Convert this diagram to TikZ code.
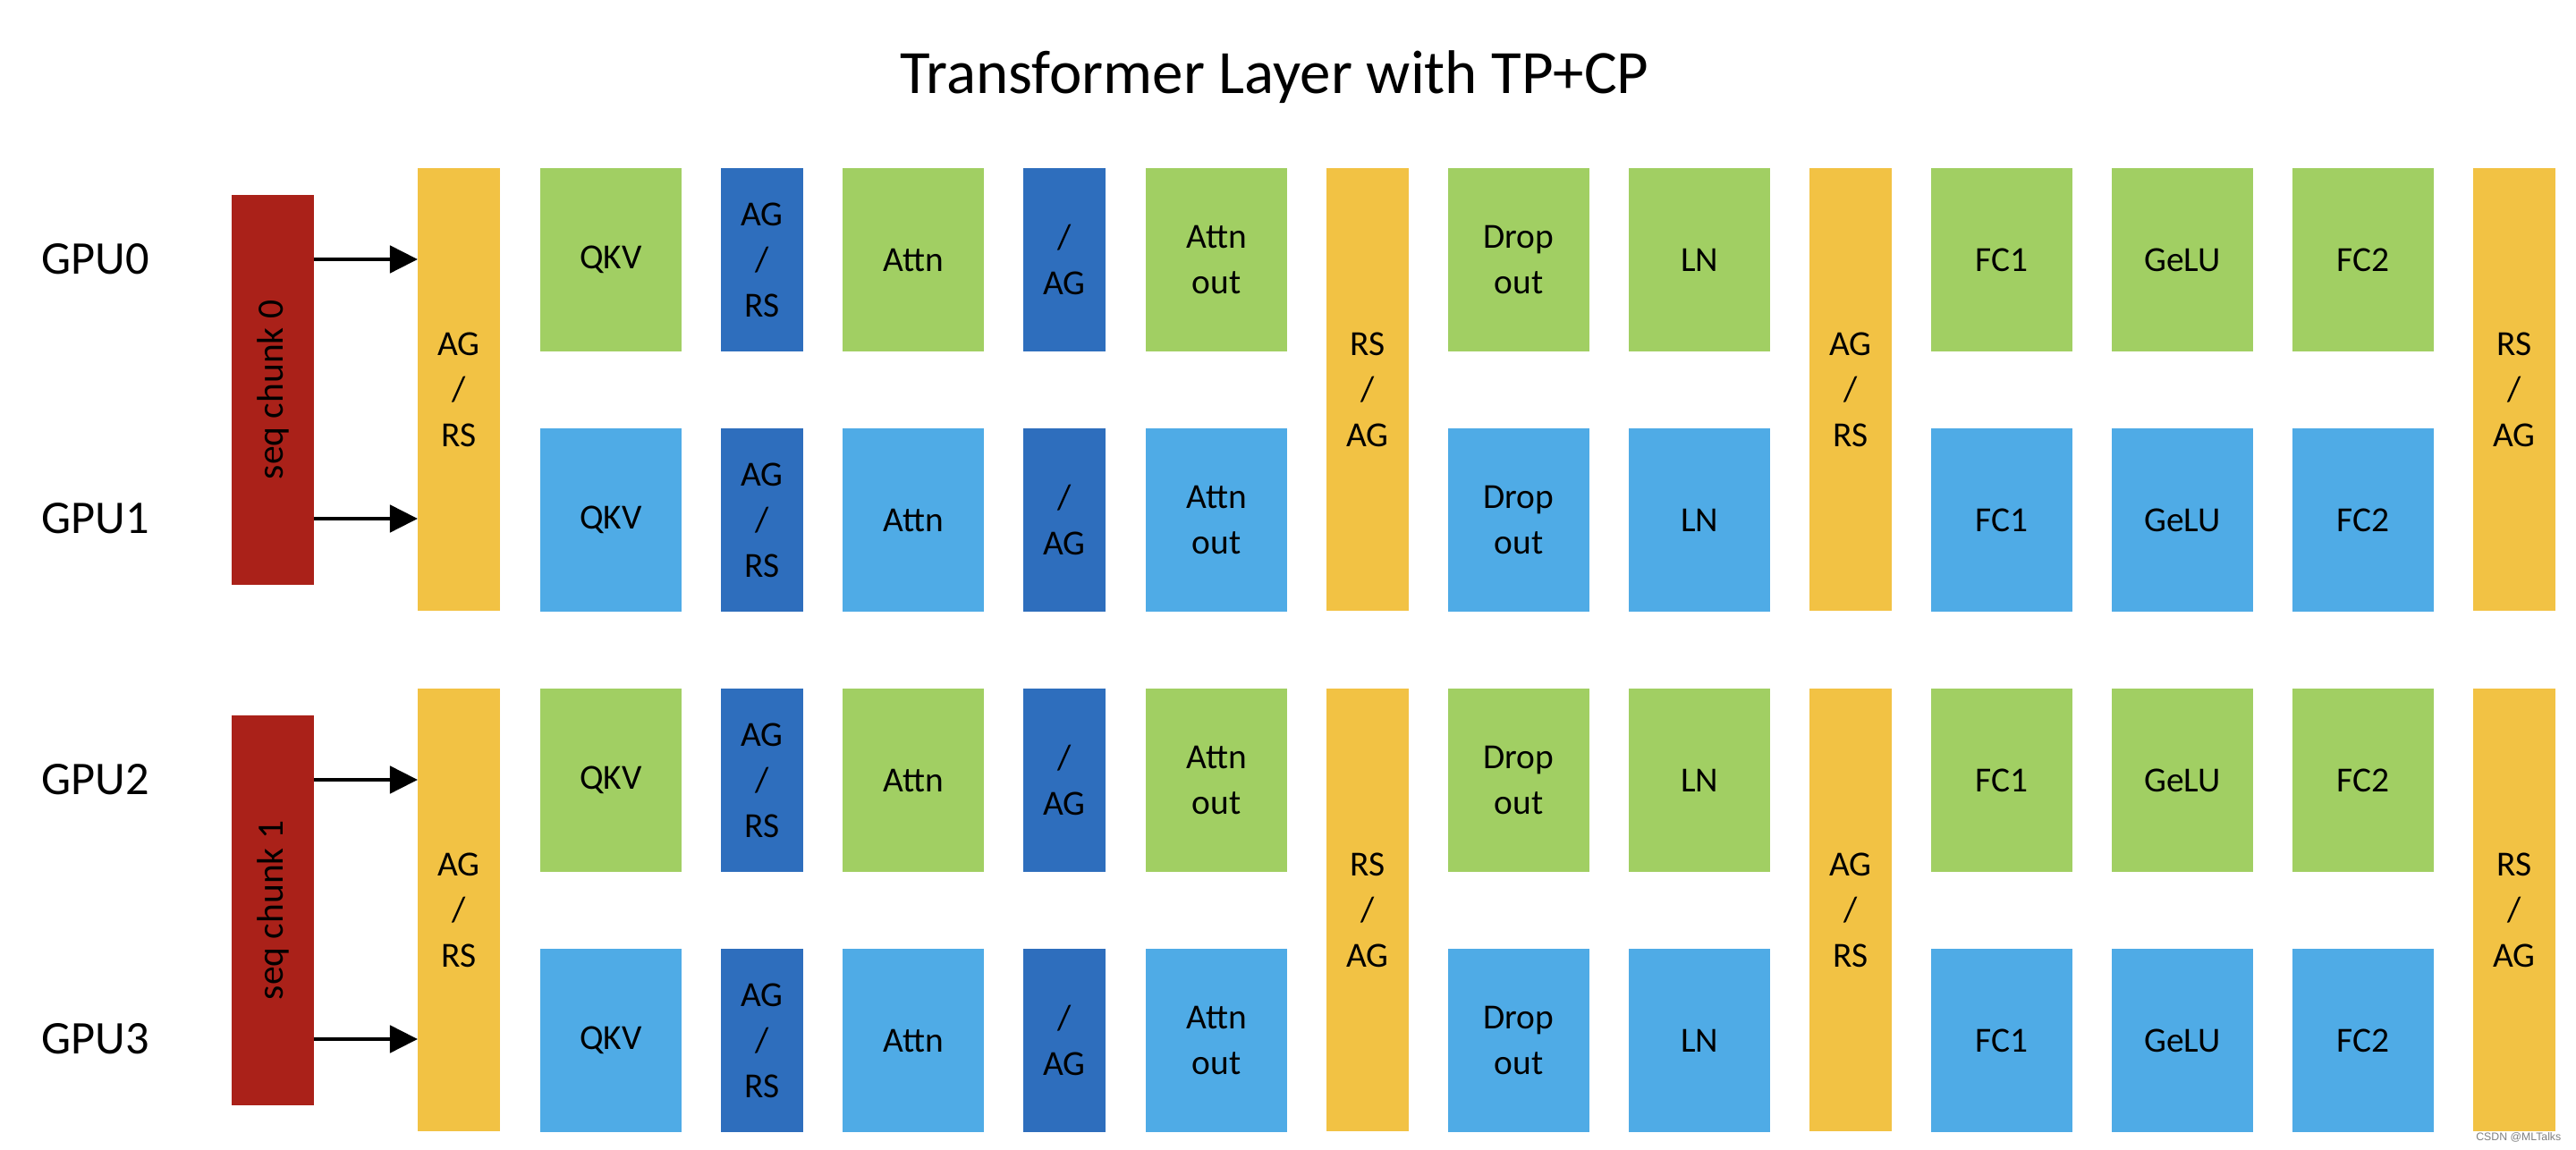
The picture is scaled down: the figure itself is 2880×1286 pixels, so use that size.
\documentclass[tikz,border=0pt]{standalone}
\usepackage{fontspec}
\setmainfont{Carlito}
\newfontfamily\wmfont{Liberation Sans}
\usetikzlibrary{arrows.meta}
\definecolor{cgreen}{HTML}{A1CF63}
\definecolor{cblue}{HTML}{4FABE6}
\definecolor{cdark}{HTML}{2E6EBD}
\definecolor{cyellow}{HTML}{F2C244}
\definecolor{cred}{HTML}{AA2119}
\begin{document}
\begin{tikzpicture}[x=0.01cm,y=-0.01cm,
  blk/.style={inner sep=0pt, outer sep=0pt, align=center, anchor=north west,
    font=\fontsize{11.2}{14.5}\selectfont},
  wide/.style={blk, minimum width=1.58cm, minimum height=2.05cm},
  narrowbox/.style={blk, fill=cdark, minimum width=0.92cm, minimum height=2.05cm},
  yellowbar/.style={blk, fill=cyellow, minimum width=0.92cm, minimum height=4.95cm},
  redbar/.style={inner sep=0pt, outer sep=0pt, fill=cred, rotate=90,
    minimum width=4.36cm, minimum height=0.92cm, font=\fontsize{11.8}{14}\selectfont},
  gpulabel/.style={inner sep=0pt, anchor=west, font=\fontsize{14.9}{17}\selectfont},
  arr/.style={line width=1.4pt, -{Triangle[length=0.31cm,width=0.30cm]}}
]
\useasboundingbox (0,0) rectangle (2880,1286);
\fill[white] (0,0) rectangle (2880,1286);

\node[anchor=base, inner sep=0pt, font=\fontsize{19.6}{22}\selectfont] (title) at (1425,105) {Transformer Layer with TP+CP};

% GPU labels
\foreach \n/\y in {0/290,1/580,2/872,3/1162}
  \node[gpulabel] (gpu\n) at (46,\y) {GPU\n};

\foreach \g/\oy in {0/0,1/582} {
  % yellow collective bars spanning both rows
  \foreach \nm/\x/\txt in {ya/467/{AG\\/\\RS}, yb/1483/{RS\\/\\AG}, yc/2023/{AG\\/\\RS}, yd/2765/{RS\\/\\AG}}
    \node[yellowbar] (\nm\g) at (\x,188+\oy) {\txt};
  % rows of compute boxes
  \foreach \r/\ry/\col in {0/188/cgreen, 1/479/cblue} {
    \foreach \nm/\x/\txt in {qkv/604/QKV, attn/942/Attn, ao/1281/{Attn\\out}, drop/1619/{Drop\\out}, ln/1821/LN, fca/2159/FC1, gelu/2361/GeLU, fcb/2563/FC2}
      \node[wide, fill=\col] (\nm\g\r) at (\x,\ry+\oy) {\txt};
    \node[narrowbox] (agrs\g\r) at (806,\ry+\oy) {AG\\/\\RS};
    \node[narrowbox] (slag\g\r) at (1144,\ry+\oy) {/\\AG};
  }
}

% sequence chunks
\node[redbar] (seq0) at (305,436) {seq chunk 0};
\node[redbar] (seq1) at (305,1018) {seq chunk 1};

% arrows
\draw[arr] (seq0.south |- gpu0.center) -- (ya0.west |- gpu0.center);
\draw[arr] (seq0.south |- gpu1.center) -- (ya0.west |- gpu1.center);
\draw[arr] (seq1.south |- gpu2.center) -- (ya1.west |- gpu2.center);
\draw[arr] (seq1.south |- gpu3.center) -- (ya1.west |- gpu3.center);

% watermark
\node[anchor=base east, inner sep=0pt, text=black!50, font=\wmfont\fontsize{3.5}{4}\selectfont] (wm) at (2864,1276) {CSDN @MLTalks};
\end{tikzpicture}
\end{document}
